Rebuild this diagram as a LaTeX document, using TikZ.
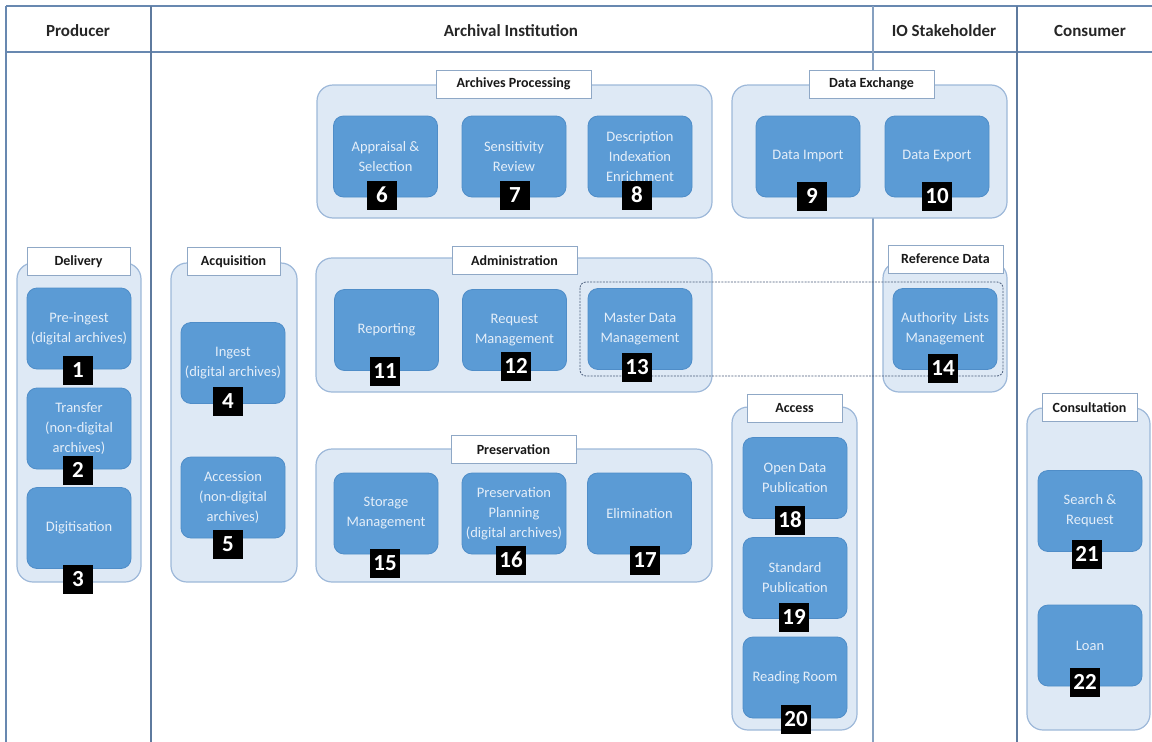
\documentclass[tikz,border=0pt]{standalone}
\usepackage{fontspec}
\setmainfont{Carlito}
\definecolor{tblline}{HTML}{6888B0}
\definecolor{grpfill}{HTML}{DEE9F5}
\definecolor{grpline}{HTML}{9DB8D9}
\definecolor{blkfill}{HTML}{5B9BD5}
\definecolor{blkline}{HTML}{4F8DC8}
\definecolor{blktext}{HTML}{E4EEF9}
\definecolor{ttlline}{HTML}{8FA8C6}
\definecolor{dashline}{HTML}{4A5C7A}
\begin{document}
\begin{tikzpicture}[x=1pt,y=-1pt,
  tbl/.style={draw=tblline,line width=1.6pt},
  tblthick/.style={draw=tblline!90!black,line width=2.2pt},
  tblthin/.style={draw=tblline!80!white,line width=1.1pt},
  hdr/.style={font=\fontsize{17}{18}\selectfont\bfseries,text=black!85},
  grp/.style={draw=grpline,fill=grpfill,line width=1.2pt,rounded corners=16pt,
    inner sep=0pt},
  ttl/.style={draw=ttlline,fill=white,line width=0.9pt,inner sep=0pt,
    minimum height=28pt,font=\fontsize{14}{16}\selectfont\bfseries,text=black!90},
  blk/.style={draw=blkline,fill=blkfill,line width=0.8pt,rounded corners=10pt,
    minimum width=104pt,minimum height=81pt,inner sep=0pt,align=center,
    text=blktext,font=\fontsize{14.5}{20}\selectfont},
  badge/.style={fill=black,text=white,minimum width=30pt,minimum height=29pt,
    inner sep=0pt,font=\fontsize{23}{23}\selectfont\bfseries}]
\useasboundingbox (0,0) rectangle (1152,742);

% swimlane table
\draw[tbl] (6,6) -- (1152,6);
\draw[tbl] (6,52) -- (1152,52);
\draw[tbl] (6,6) -- (6,742);
\draw[tblthick] (151,6) -- (151,742);
\draw[tblthin] (873,6) -- (873,742);
\draw[tblthick] (1017,6) -- (1017,742);

\node[hdr] (hProd) at (78,31) {Producer};
\node[hdr] (hArch) at (511,31) {Archival Institution};
\node[hdr] (hIO) at (944,31) {IO Stakeholder};
\node[hdr] (hCons) at (1090,31) {Consumer};

% groups
\node[grp,minimum width=124pt,minimum height=319pt] (gDel) at (79,422.5) {};
\node[grp,minimum width=126pt,minimum height=319pt] (gAcq) at (234,422.5) {};
\node[grp,minimum width=395pt,minimum height=133pt] (gProc) at (514.5,151.5) {};
\node[grp,minimum width=275pt,minimum height=133pt] (gExch) at (869.5,151.5) {};
\node[grp,minimum width=396pt,minimum height=134pt] (gAdm) at (514,325) {};
\node[grp,minimum width=124pt,minimum height=130pt] (gRef) at (945,327) {};
\node[grp,minimum width=396pt,minimum height=133pt] (gPres) at (514,515.5) {};
\node[grp,minimum width=125pt,minimum height=323pt] (gAcc) at (794.5,568.5) {};
\node[grp,minimum width=123pt,minimum height=322pt] (gCon) at (1088.5,569) {};

% master data / authority lists link
\draw[dashline,line width=0.8pt,dash pattern=on 2pt off 1.2pt,rounded corners=6pt]
  (580,282) rectangle (1003,376);

% group titles
\node[ttl,minimum width=103pt] (tDel) at (78.5,261.5) {Delivery};
\node[ttl,minimum width=93pt] (tAcq) at (233.5,261.5) {Acquisition};
\node[ttl,minimum width=155pt] (tProc) at (513.5,84) {Archives Processing};
\node[ttl,minimum width=125pt] (tExch) at (871.5,84) {Data Exchange};
\node[ttl,minimum width=125pt] (tAdm) at (514.5,260.5) {Administration};
\node[ttl,minimum width=115pt] (tRef) at (945.5,259) {Reference Data};
\node[ttl,minimum width=125pt] (tPres) at (513.5,449.5) {Preservation};
\node[ttl,minimum width=95pt] (tAcc) at (794.5,408.5) {Access};
\node[ttl,minimum width=95pt] (tCon) at (1089.5,407.5) {Consultation};

% functions
\node[blk] (b1) at (79,328.5) {Pre-ingest\\(digital archives)};
\node[blk] (b2) at (79,428.5) {Transfer\\(non-digital\\archives)};
\node[blk] (b3) at (79,528) {Digitisation};
\node[blk] (b4) at (233,363) {Ingest\\(digital archives)};
\node[blk] (b5) at (233,497.5) {Accession\\(non-digital\\archives)};
\node[blk] (b6) at (385.5,156.5) {Appraisal \&\\Selection};
\node[blk] (b7) at (514,156.5) {Sensitivity\\Review};
\node[blk] (b8) at (640,156.5) {Description\\Indexation\\Enrichment};
\node[blk] (b9) at (808,156.5) {Data Import};
\node[blk] (b10) at (937,156.5) {Data Export};
\node[blk] (b11) at (386.5,330) {Reporting};
\node[blk] (b12) at (514.5,330) {Request\\Management};
\node[blk] (b13) at (640,329) {Master Data\\Management};
\node[blk] (b14) at (945,329) {Authority\ \ Lists\\Management};
\node[blk] (b15) at (386,513.5) {Storage\\Management};
\node[blk] (b16) at (514,513.5) {Preservation\\Planning\\(digital archives)};
\node[blk] (b17) at (639.5,513.5) {Elimination};
\node[blk] (b18) at (795,478) {Open Data\\Publication};
\node[blk] (b19) at (795,578) {Standard\\Publication};
\node[blk] (b20) at (795,677.5) {Reading Room};
\node[blk] (b21) at (1090,511) {Search \&\\Request};
\node[blk] (b22) at (1090,645.5) {Loan};

% numbering
\node[badge] (n1) at (78,370) {1};
\node[badge] (n2) at (78,470) {2};
\node[badge] (n3) at (78,579) {3};
\node[badge] (n4) at (228,401) {4};
\node[badge] (n5) at (228,544) {5};
\node[badge] (n6) at (382,195) {6};
\node[badge] (n7) at (515,195) {7};
\node[badge] (n8) at (637,195) {8};
\node[badge] (n9) at (812,196) {9};
\node[badge] (n10) at (937,196) {10};
\node[badge] (n11) at (385,371) {11};
\node[badge] (n12) at (516,366) {12};
\node[badge] (n13) at (637,367) {13};
\node[badge] (n14) at (943,368) {14};
\node[badge] (n15) at (385,563) {15};
\node[badge] (n16) at (511,560) {16};
\node[badge] (n17) at (645,560) {17};
\node[badge] (n18) at (790,520) {18};
\node[badge] (n19) at (794,617) {19};
\node[badge] (n20) at (796,719) {20};
\node[badge] (n21) at (1087,554) {21};
\node[badge] (n22) at (1085,682) {22};
\end{tikzpicture}
\end{document}
